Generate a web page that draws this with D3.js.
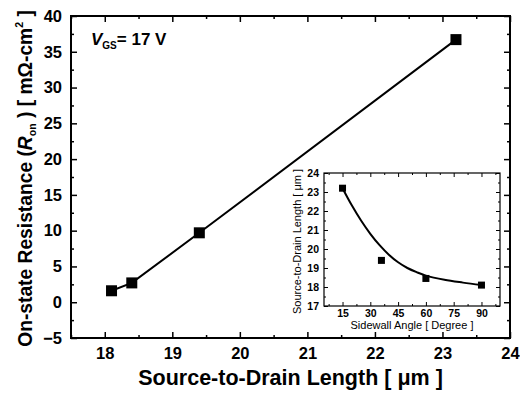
<!DOCTYPE html>
<html>
<head>
<meta charset="utf-8">
<script src="https://cdn.jsdelivr.net/npm/d3@7"></script>
<style>
  body { margin: 0; background: #fff; }
  svg { font-family: "Liberation Sans", Arial, sans-serif; }
</style>
</head>
<body>
<div id="chart"></div>
<script>
// main plot: source-to-drain length vs on-resistance
const lengthVals = [18.1, 18.4, 19.4, 23.2];
const ronVals = [1.6, 2.7, 9.7, 36.7];
const mainXTicks = [18, 19, 20, 21, 22, 23, 24];
const mainYTicks = [-5, 0, 5, 10, 15, 20, 25, 30, 35, 40];

// inset: sidewall angle vs length
const angleVals = [15, 36, 60, 90];
const insetLenVals = [23.2, 19.4, 18.45, 18.1];
// fitted curve
const fitAngle = [15, 20, 25, 30, 35, 40, 45, 50, 55, 60, 70, 80, 90];
const fitLen = [23.2, 22.3, 21.5, 20.8, 20.2, 19.7, 19.3, 19.0, 18.78, 18.6, 18.38, 18.23, 18.1];
const insetXTicks = [15, 30, 45, 60, 75, 90];
const insetYTicks = [17, 18, 19, 20, 21, 22, 23, 24];

const W = 520, H = 393;
const margin = {top: 16, right: 10, bottom: 55, left: 71};

const svg = d3.select("#chart").append("svg")
  .attr("width", W).attr("height", H);

const x = d3.scaleLinear().domain([17.5, 24]).range([margin.left, W - margin.right]);
const y = d3.scaleLinear().domain([-5, 40]).range([H - margin.bottom, margin.top]);

function tickAxis(g, axis) {
  g.call(axis);
  g.select(".domain").remove();
  g.selectAll("line").attr("stroke", "#000").attr("stroke-width", 1.5);
}

// major + minor ticks, all pointing inward
const bottomY = y.range()[0], topY = y.range()[1];
const leftX = x.range()[0], rightX = x.range()[1];
const minorX = d3.range(17.5, 24.01, 0.5).filter(v => !mainXTicks.includes(v));
const minorY = d3.range(-2.5, 40, 5);

svg.append("g").attr("transform", `translate(0,${bottomY})`)
  .call(g => tickAxis(g, d3.axisBottom(x).tickValues(mainXTicks).tickSize(-6).tickPadding(9).tickFormat(d3.format("d"))));
svg.append("g").attr("transform", `translate(0,${bottomY})`)
  .call(g => tickAxis(g, d3.axisBottom(x).tickValues(minorX).tickSize(-3).tickFormat("")));
svg.append("g").attr("transform", `translate(0,${topY})`)
  .call(g => tickAxis(g, d3.axisTop(x).tickValues(mainXTicks).tickSize(-6).tickFormat("")));
svg.append("g").attr("transform", `translate(0,${topY})`)
  .call(g => tickAxis(g, d3.axisTop(x).tickValues(minorX).tickSize(-3).tickFormat("")));

svg.append("g").attr("transform", `translate(${leftX},0)`)
  .call(g => tickAxis(g, d3.axisLeft(y).tickValues(mainYTicks).tickSize(-6).tickPadding(9)));
svg.append("g").attr("transform", `translate(${leftX},0)`)
  .call(g => tickAxis(g, d3.axisLeft(y).tickValues(minorY).tickSize(-3).tickFormat("")));
svg.append("g").attr("transform", `translate(${rightX},0)`)
  .call(g => tickAxis(g, d3.axisRight(y).tickValues(mainYTicks).tickSize(-6).tickFormat("")));
svg.append("g").attr("transform", `translate(${rightX},0)`)
  .call(g => tickAxis(g, d3.axisRight(y).tickValues(minorY).tickSize(-3).tickFormat("")));

svg.selectAll("text")
  .attr("font-family", "Liberation Sans, Arial, sans-serif")
  .attr("font-size", "16.5px")
  .attr("font-weight", "bold")
  .attr("fill", "#000");

svg.append("rect")
  .attr("x", leftX).attr("y", topY)
  .attr("width", rightX - leftX).attr("height", bottomY - topY)
  .attr("fill", "none").attr("stroke", "#000").attr("stroke-width", 2);

// main series
const mainData = lengthVals.map((v, i) => ({x: v, y: ronVals[i]}));
svg.append("path")
  .datum(mainData)
  .attr("fill", "none").attr("stroke", "#000").attr("stroke-width", 2)
  .attr("d", d3.line().x(d => x(d.x)).y(d => y(d.y)));
svg.selectAll(".mainpt").data(mainData).enter().append("rect")
  .attr("class", "mainpt")
  .attr("x", d => x(d.x) - 5.5).attr("y", d => y(d.y) - 5.5)
  .attr("width", 11).attr("height", 11).attr("fill", "#000");

// annotation
const ann = svg.append("text").attr("x", 91).attr("y", 45)
  .attr("font-size", "17px").attr("font-weight", "bold");
ann.append("tspan").attr("font-style", "italic").text("V");
ann.append("tspan").attr("font-size", "10px").attr("dy", 4).text("GS");
ann.append("tspan").attr("dy", -4).text("= 17 V");

// axis titles
svg.append("text")
  .attr("x", (leftX + rightX) / 2).attr("y", 385)
  .attr("text-anchor", "middle")
  .attr("font-size", "21.5px").attr("font-weight", "bold")
  .text("Source-to-Drain Length [ \u03bcm ]");

const ytCenter = 178.5;
const yt = svg.append("text")
  .attr("text-anchor", "middle")
  .attr("font-size", "20px").attr("font-weight", "bold");
yt.append("tspan").text("On-state Resistance (");
yt.append("tspan").attr("font-style", "italic").text("R");
yt.append("tspan").attr("font-size", "11px").attr("dy", 4).text("on");
yt.append("tspan").attr("dy", -4).text(" ) [ m\u03a9-cm");
yt.append("tspan").attr("font-size", "11px").attr("dy", -9).text("2");
yt.append("tspan").attr("dy", 9).text(" ]");
// the original title is narrower than the font: squeeze it along its length
const ytW = yt.node().getBBox().width;
yt.attr("transform", `translate(32,${ytCenter}) rotate(-90) scale(${337 / ytW},1)`);

// ---- inset ----
const ix = d3.scaleLinear().domain([5, 100]).range([324, 500]);
const iy = d3.scaleLinear().domain([17, 24]).range([306, 173]);
const inset = svg.append("g");

inset.append("rect")
  .attr("x", ix.range()[0]).attr("y", iy.range()[1])
  .attr("width", ix.range()[1] - ix.range()[0]).attr("height", iy.range()[0] - iy.range()[1])
  .attr("fill", "#fff");

const iMinorX = d3.range(7.5, 100, 7.5).filter(v => !insetXTicks.includes(v));
const iMinorY = d3.range(17.5, 24, 1);

function insetAxis(g, axis) {
  g.call(axis);
  g.select(".domain").remove();
  g.selectAll("line").attr("stroke", "#000").attr("stroke-width", 1);
}
inset.append("g").attr("class", "ilab").attr("transform", `translate(0,${iy.range()[0]})`)
  .call(g => insetAxis(g, d3.axisBottom(ix).tickValues(insetXTicks).tickSize(-4).tickPadding(4).tickFormat(d3.format("d"))));
inset.append("g").attr("transform", `translate(0,${iy.range()[0]})`)
  .call(g => insetAxis(g, d3.axisBottom(ix).tickValues(iMinorX).tickSize(-2).tickFormat("")));
inset.append("g").attr("transform", `translate(0,${iy.range()[1]})`)
  .call(g => insetAxis(g, d3.axisTop(ix).tickValues(insetXTicks).tickSize(-4).tickFormat("")));
inset.append("g").attr("transform", `translate(0,${iy.range()[1]})`)
  .call(g => insetAxis(g, d3.axisTop(ix).tickValues(iMinorX).tickSize(-2).tickFormat("")));
inset.append("g").attr("class", "ilab").attr("transform", `translate(${ix.range()[0]},0)`)
  .call(g => insetAxis(g, d3.axisLeft(iy).tickValues(insetYTicks).tickSize(-4).tickPadding(5).tickFormat(d3.format("d"))));
inset.append("g").attr("transform", `translate(${ix.range()[0]},0)`)
  .call(g => insetAxis(g, d3.axisLeft(iy).tickValues(iMinorY).tickSize(-2).tickFormat("")));
inset.append("g").attr("transform", `translate(${ix.range()[1]},0)`)
  .call(g => insetAxis(g, d3.axisRight(iy).tickValues(insetYTicks).tickSize(-4).tickFormat("")));
inset.append("g").attr("transform", `translate(${ix.range()[1]},0)`)
  .call(g => insetAxis(g, d3.axisRight(iy).tickValues(iMinorY).tickSize(-2).tickFormat("")));

inset.selectAll(".ilab text")
  .attr("font-family", "Liberation Sans, Arial, sans-serif")
  .attr("font-size", "10.5px").attr("font-weight", "bold").attr("fill", "#000");

inset.append("rect")
  .attr("x", ix.range()[0]).attr("y", iy.range()[1])
  .attr("width", ix.range()[1] - ix.range()[0]).attr("height", iy.range()[0] - iy.range()[1])
  .attr("fill", "none").attr("stroke", "#000").attr("stroke-width", 1.2);

const fitData = fitAngle.map((a, i) => ({x: a, y: fitLen[i]}));
inset.append("path")
  .datum(fitData)
  .attr("fill", "none").attr("stroke", "#000").attr("stroke-width", 2)
  .attr("d", d3.line().curve(d3.curveCatmullRom).x(d => ix(d.x)).y(d => iy(d.y)));

const insetData = angleVals.map((a, i) => ({x: a, y: insetLenVals[i]}));
inset.selectAll(".ipt").data(insetData).enter().append("rect")
  .attr("class", "ipt")
  .attr("x", d => ix(d.x) - 3.5).attr("y", d => iy(d.y) - 3.5)
  .attr("width", 7).attr("height", 7).attr("fill", "#000");

inset.append("text")
  .attr("x", (ix.range()[0] + ix.range()[1]) / 2).attr("y", 329)
  .attr("text-anchor", "middle")
  .attr("font-size", "11px")
  .text("Sidewall Angle [ Degree ]");
inset.append("text")
  .attr("transform", `translate(301,${(iy.range()[0] + iy.range()[1]) / 2 + 2}) rotate(-90)`)
  .attr("text-anchor", "middle")
  .attr("font-size", "11px")
  .text("Source-to-Drain Length  [ \u03bcm ]");
</script>
</body>
</html>
